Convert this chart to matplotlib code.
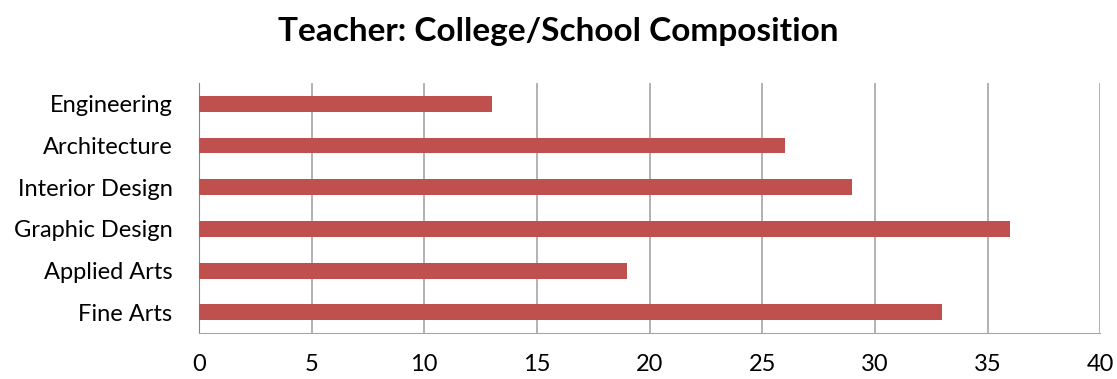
import matplotlib.pyplot as plt

# teacher counts per college / school
schools = ['Fine Arts', 'Applied Arts', 'Graphic Design', 'Interior Design', 'Architecture', 'Engineering']
teachers = [33, 19, 36, 29, 26, 13]

plt.rcParams['font.family'] = ['Lato', 'DejaVu Sans']

fig = plt.figure(figsize=(11.17, 3.79), dpi=100)
ax = fig.add_axes([0.178, 0.121, 0.807, 0.66])

ax.barh(schools, teachers, height=0.38, color='#C0504D', zorder=3)

ax.set_xlim(0, 40)
ax.set_ylim(-0.5, len(schools) - 0.5)
ax.set_xticks(range(0, 41, 5))
ax.grid(axis='x', color='#A6A6A6', linewidth=1.2, zorder=0)

for side in ['top', 'right']:
    ax.spines[side].set_visible(False)
ax.spines['left'].set_color('#868686')
ax.spines['bottom'].set_color('#A6A6A6')
ax.tick_params(axis='y', length=0, pad=19, labelsize=17)
ax.tick_params(axis='x', length=0, pad=15, labelsize=17)

fig.suptitle('Teacher: College/School Composition', fontsize=24, fontweight='bold', y=0.955)

plt.savefig('out.png', dpi=100, facecolor='w')
